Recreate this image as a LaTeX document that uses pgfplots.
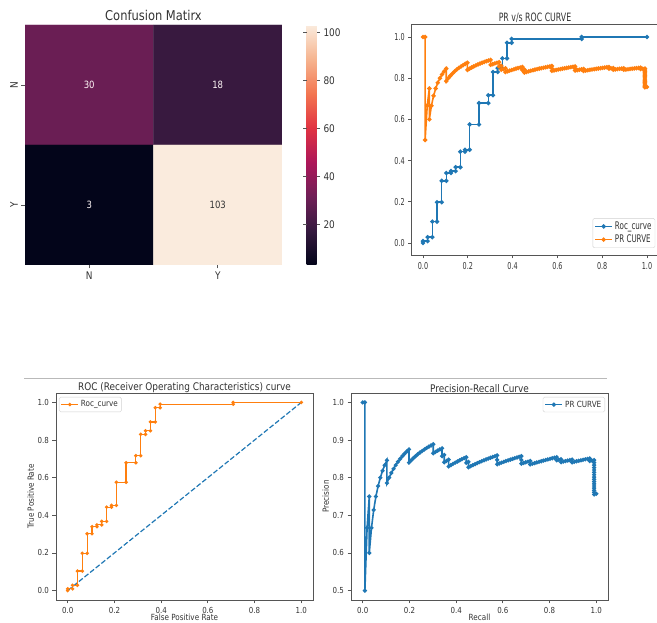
\documentclass[border=0pt]{standalone}
\usepackage{fontspec}
\setmainfont{DejaVu Sans}[FakeStretch=0.85]
\newfontfamily\fB{DejaVu Sans}[FakeStretch=0.68]
\usepackage{pgfplots}
\usepackage{pgfplotstable}
\pgfplotsset{compat=1.18}
\definecolor{mplblue}{HTML}{1F77B4}
\definecolor{mplorange}{HTML}{FF7F0E}
\definecolor{txt}{HTML}{333333}
\definecolor{spine}{HTML}{555555}

\pgfplotstableread{
r p
0 1
0.0094 1
0.0094 0.5
0.0189 0.6667
0.0283 0.75
0.0283 0.6
0.0377 0.6667
0.0472 0.7143
0.0566 0.75
0.0660 0.7778
0.0755 0.8
0.0849 0.8182
0.0943 0.8333
0.1038 0.8462
0.1038 0.7857
0.1132 0.8
0.1226 0.8125
0.1321 0.8235
0.1415 0.8333
0.1509 0.8421
0.1604 0.85
0.1698 0.8571
0.1792 0.8636
0.1887 0.8696
0.1981 0.875
0.1981 0.84
0.2075 0.8462
0.2170 0.8519
0.2264 0.8571
0.2358 0.8621
0.2453 0.8667
0.2547 0.8710
0.2642 0.875
0.2736 0.8788
0.2830 0.8824
0.2925 0.8857
0.3019 0.8889
0.3019 0.8649
0.3113 0.8684
0.3208 0.8718
0.3302 0.875
0.3396 0.8780
0.3396 0.8571
0.3491 0.8605
0.3491 0.8409
0.3585 0.8444
0.3679 0.8478
0.3679 0.8298
0.3774 0.8333
0.3868 0.8367
0.3962 0.84
0.4057 0.8431
0.4151 0.8462
0.4245 0.8491
0.4340 0.8519
0.4434 0.8545
0.4434 0.8393
0.4528 0.8421
0.4528 0.8276
0.4623 0.8305
0.4717 0.8333
0.4811 0.8361
0.4906 0.8387
0.5 0.8413
0.5094 0.8438
0.5189 0.8462
0.5283 0.8485
0.5377 0.8507
0.5472 0.8529
0.5566 0.8551
0.5660 0.8571
0.5755 0.8592
0.5755 0.8472
0.5755 0.8356
0.5849 0.8378
0.5943 0.84
0.6038 0.8421
0.6132 0.8442
0.6226 0.8462
0.6321 0.8481
0.6415 0.85
0.6509 0.8519
0.6604 0.8537
0.6698 0.8554
0.6792 0.8571
0.6792 0.8471
0.6792 0.8372
0.6887 0.8391
0.6981 0.8409
0.7075 0.8427
0.7170 0.8444
0.7170 0.8352
0.7264 0.8370
0.7358 0.8387
0.7453 0.8404
0.7547 0.8421
0.7642 0.8438
0.7736 0.8454
0.7830 0.8469
0.7925 0.8485
0.8019 0.85
0.8113 0.8515
0.8208 0.8529
0.8302 0.8544
0.8302 0.8462
0.8396 0.8476
0.8491 0.8491
0.8491 0.8411
0.8585 0.8426
0.8679 0.8440
0.8774 0.8455
0.8868 0.8468
0.8962 0.8482
0.8962 0.8407
0.9057 0.8421
0.9151 0.8435
0.9245 0.8448
0.9340 0.8462
0.9434 0.8475
0.9528 0.8487
0.9623 0.85
0.9717 0.8512
0.9717 0.8443
0.9811 0.8455
0.9906 0.8468
0.9906 0.84
0.9906 0.8333
0.9906 0.8268
0.9906 0.8203
0.9906 0.8140
0.9906 0.8077
0.9906 0.8015
0.9906 0.7955
0.9906 0.7895
0.9906 0.7836
0.9906 0.7778
0.9906 0.7721
0.9906 0.7664
0.9906 0.7609
0.9906 0.7554
1 0.7571
}\prdata

\pgfplotstableread{
f t
0 0
0 0.0094
0.0208 0.0094
0.0208 0.0283
0.0417 0.0283
0.0417 0.1038
0.0625 0.1038
0.0625 0.1981
0.0833 0.1981
0.0833 0.3019
0.1042 0.3019
0.1042 0.3396
0.125 0.3396
0.125 0.3491
0.1458 0.3491
0.1458 0.3679
0.1667 0.3679
0.1667 0.4434
0.1875 0.4434
0.1875 0.4528
0.2083 0.4528
0.2083 0.5755
0.25 0.5755
0.25 0.6792
0.2917 0.6792
0.2917 0.7170
0.3125 0.7170
0.3125 0.8302
0.3333 0.8302
0.3333 0.8491
0.3542 0.8491
0.3542 0.8962
0.375 0.8962
0.375 0.9717
0.3958 0.9717
0.3958 0.9906
0.7083 0.9906
0.7083 1
1 1
}\rocdata

\pgfplotsset{
  mplstyle/.style={
    scale only axis, anchor=south west,
    axis line style={spine, line width=0.8pt},
    tick align=outside, xtick pos=bottom, ytick pos=left,
    major tick length=3.5pt, tick style={spine, line width=0.8pt},
    ticklabel style={text=txt},
    /pgf/number format/assume math mode=true,
    xticklabel style={/pgf/number format/.cd, fixed, fixed zerofill, precision=1},
    yticklabel style={/pgf/number format/.cd, fixed, fixed zerofill, precision=1},
    legend cell align=left,
    legend style={draw=black!18, rounded corners=1.5pt, fill=white, text=txt, inner sep=1.5pt},
  }
}

\begin{document}
\begin{tikzpicture}
\path[use as bounding box] (0,0) rectangle (657pt,623pt);

% Confusion matrix
\begin{axis}[
  at={(25pt,358pt)}, anchor=south west, scale only axis,
  width=257pt, height=240pt,
  xmin=-0.5, xmax=1.5, ymin=-0.5, ymax=1.5, y dir=reverse,
  xtick={0,1}, xticklabels={N,Y}, ytick={0,1}, yticklabels={N,Y},
  axis line style={draw=none},
  tick align=outside, xtick pos=bottom, ytick pos=left,
  major tick length=3.5pt, tick style={spine, line width=0.8pt},
  ticklabel style={text=txt, font=\fontsize{10.5}{12}\selectfont},
  yticklabel style={rotate=90, anchor=south},
  /pgf/number format/assume math mode=true,
  title={Confusion Matirx},
  title style={font=\fontsize{13.5}{15}\selectfont, text=txt, yshift=-5pt},
  colormap={rocket}{rgb255=(3,5,26) rgb255=(53,25,62) rgb255=(112,31,87) rgb255=(173,23,89) rgb255=(225,51,66) rgb255=(243,118,81) rgb255=(246,180,143) rgb255=(250,235,221)},
  point meta min=3, point meta max=103,
  colorbar,
  colorbar style={
    at={(parent axis.north east)}, anchor=north west, xshift=16pt,
    scale only axis, width=10pt, height=240pt,
    axis line style={draw=none},
    ytick={20,40,60,80,100},
    ytick style={spine, line width=0.8pt},
    major tick length=3.5pt, tick align=outside,
    yticklabel pos=right,
    yticklabel style={text=txt, font=\fontsize{10.5}{12}\selectfont},
    /pgf/number format/assume math mode=true,
  },
]
\addplot[matrix plot*, mesh/cols=2, point meta=explicit] table[meta=c]{
x y c
0 0 30
1 0 18
0 1 3
1 1 103
};
\addplot[draw=none, mark=none, nodes near coords, point meta=explicit symbolic,
  nodes near coords style={anchor=center, text=white!88!pink, font=\fontsize{10}{12}\selectfont}] table[meta=c]{
x y c
0 0 30
1 0 18
0 1 3
};
\addplot[draw=none, mark=none, nodes near coords, point meta=explicit symbolic,
  nodes near coords style={anchor=center, text=txt, font=\fontsize{10}{12}\selectfont}] table[meta=c]{
x y c
1 1 103
};
\end{axis}

% PR vs ROC
\begin{axis}[mplstyle,
  at={(411.8pt,368pt)}, width=246.4pt, height=231pt,
  xmin=-0.05, xmax=1.05, ymin=-0.058, ymax=1.063,
  xtick={0,0.2,0.4,0.6,0.8,1}, ytick={0,0.2,0.4,0.6,0.8,1},
  ticklabel style={font=\fB\fontsize{9.5}{11}\selectfont},
  title={PR v/s ROC CURVE},
  title style={font=\fB\fontsize{11.5}{13}\selectfont, text=txt, yshift=-8pt},
  legend style={at={(1,0)}, anchor=south east, xshift=-3pt, yshift=7pt, font=\fB\fontsize{10.5}{12}\selectfont},
]
\addplot[mplblue, line width=1.6pt, mark=*, mark size=1.3pt] table[x=f, y=t]{\rocdata};
\addlegendentry{Roc\_curve}
\addplot[mplorange, line width=1.6pt, mark=*, mark size=1.3pt] table[x=r, y=p]{\prdata};
\addlegendentry{PR CURVE}
\end{axis}

\draw[gray!55, line width=0.8pt] (24pt,245pt) -- (607pt,245pt);

% ROC bottom-left
\begin{axis}[mplstyle,
  at={(56pt,23pt)}, width=257pt, height=207pt,
  xmin=-0.05, xmax=1.05, ymin=-0.05, ymax=1.05,
  xtick={0,0.2,0.4,0.6,0.8,1}, ytick={0,0.2,0.4,0.6,0.8,1},
  ticklabel style={font=\fontsize{8.3}{10}\selectfont},
  xlabel={False Positive Rate}, ylabel={True Positive Rate},
  label style={font=\fontsize{8.5}{10}\selectfont, text=txt},
  xlabel style={yshift=6pt}, ylabel style={yshift=-3pt},
  title={ROC (Receiver Operating Characteristics) curve},
  title style={font=\fontsize{10.5}{12}\selectfont, text=txt, yshift=-9pt},
  legend style={at={(0,1)}, anchor=north west, xshift=3pt, yshift=-4pt, font=\fontsize{8.5}{10}\selectfont},
]
\addplot[mplblue, line width=1.2pt, dash pattern=on 5pt off 2.2pt, forget plot] coordinates {(0,0) (1,1)};
\addplot[mplorange, line width=1.2pt, mark=*, mark size=1.1pt] table[x=f, y=t]{\rocdata};
\addlegendentry{Roc\_curve}
\end{axis}

% PR bottom-right
\begin{axis}[mplstyle,
  at={(351pt,23pt)}, width=257pt, height=207pt,
  xmin=-0.05, xmax=1.05, ymin=0.475, ymax=1.025,
  xtick={0,0.2,0.4,0.6,0.8,1}, ytick={0.5,0.6,0.7,0.8,0.9,1},
  ticklabel style={font=\fontsize{8.3}{10}\selectfont},
  xlabel={Recall}, ylabel={Precision},
  label style={font=\fontsize{8.5}{10}\selectfont, text=txt},
  xlabel style={yshift=6pt}, ylabel style={yshift=-3pt},
  title={Precision-Recall Curve},
  title style={font=\fontsize{10.5}{12}\selectfont, text=txt, yshift=-9pt},
  legend style={at={(1,1)}, anchor=north east, xshift=-3pt, yshift=-4pt, font=\fontsize{8.5}{10}\selectfont},
]
\addplot[mplblue, line width=1.6pt, mark=*, mark size=1.2pt] table[x=r, y=p]{\prdata};
\addlegendentry{PR CURVE}
\end{axis}
\end{tikzpicture}
\end{document}
